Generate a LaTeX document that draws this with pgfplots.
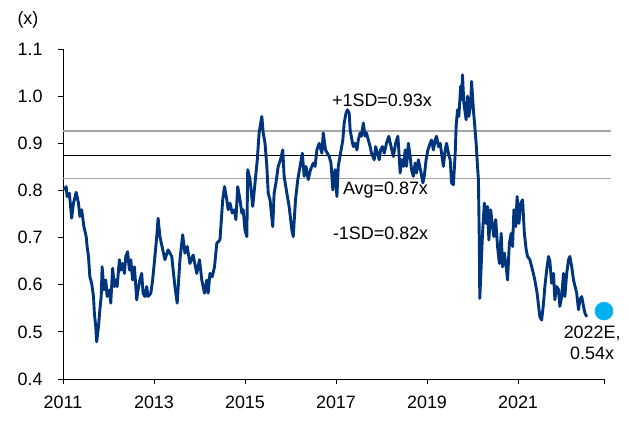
\documentclass[border=0pt]{standalone}
\usepackage{pgfplots}
\usepackage{pgfplotstable}
\pgfplotsset{compat=1.18}
\usepackage{fontspec}
\setmainfont{Liberation Sans}
\definecolor{navy}{RGB}{0,52,125}
\definecolor{dotblue}{RGB}{0,176,240}
\definecolor{sdgray}{RGB}{166,166,166}
\pgfplotstableread{
year value
2011.02 0.801
2011.07 0.808
2011.09 0.787
2011.14 0.794
2011.19 0.741
2011.23 0.773
2011.29 0.796
2011.34 0.773
2011.37 0.745
2011.41 0.759
2011.46 0.723
2011.51 0.702
2011.53 0.681
2011.56 0.660
2011.59 0.617
2011.63 0.603
2011.67 0.575
2011.69 0.539
2011.72 0.511
2011.74 0.479
2011.78 0.511
2011.81 0.547
2011.84 0.575
2011.86 0.638
2011.90 0.589
2011.94 0.610
2011.97 0.575
2012.02 0.589
2012.05 0.561
2012.09 0.635
2012.13 0.596
2012.16 0.610
2012.19 0.596
2012.24 0.653
2012.27 0.631
2012.31 0.645
2012.35 0.624
2012.38 0.660
2012.42 0.670
2012.46 0.631
2012.49 0.653
2012.53 0.610
2012.57 0.638
2012.62 0.568
2012.65 0.589
2012.69 0.610
2012.73 0.624
2012.76 0.582
2012.80 0.575
2012.84 0.596
2012.87 0.575
2012.93 0.582
2012.97 0.610
2013.02 0.660
2013.06 0.702
2013.09 0.741
2013.13 0.702
2013.24 0.653
2013.31 0.674
2013.39 0.660
2013.46 0.596
2013.51 0.561
2013.57 0.653
2013.63 0.706
2013.68 0.667
2013.73 0.681
2013.79 0.645
2013.86 0.663
2013.94 0.624
2014.00 0.653
2014.05 0.610
2014.11 0.582
2014.16 0.610
2014.19 0.582
2014.23 0.624
2014.28 0.617
2014.33 0.638
2014.38 0.688
2014.45 0.695
2014.51 0.780
2014.55 0.808
2014.60 0.780
2014.63 0.759
2014.67 0.773
2014.72 0.752
2014.77 0.759
2014.80 0.738
2014.84 0.808
2014.89 0.780
2014.93 0.752
2014.96 0.759
2015.00 0.716
2015.04 0.702
2015.06 0.844
2015.11 0.823
2015.17 0.766
2015.22 0.816
2015.27 0.865
2015.31 0.922
2015.37 0.957
2015.40 0.922
2015.44 0.900
2015.48 0.851
2015.51 0.794
2015.55 0.780
2015.61 0.723
2015.64 0.794
2015.68 0.816
2015.73 0.851
2015.78 0.865
2015.83 0.886
2015.86 0.830
2015.92 0.794
2015.97 0.766
2016.03 0.716
2016.06 0.702
2016.11 0.780
2016.16 0.823
2016.21 0.851
2016.26 0.879
2016.30 0.830
2016.34 0.851
2016.39 0.823
2016.44 0.844
2016.50 0.858
2016.54 0.851
2016.58 0.886
2016.63 0.900
2016.69 0.879
2016.72 0.922
2016.77 0.886
2016.81 0.879
2016.85 0.872
2016.89 0.858
2016.93 0.801
2016.98 0.844
2017.02 0.787
2017.05 0.851
2017.10 0.879
2017.15 0.907
2017.18 0.943
2017.22 0.964
2017.25 0.971
2017.29 0.964
2017.31 0.929
2017.35 0.907
2017.38 0.893
2017.42 0.900
2017.46 0.886
2017.49 0.907
2017.53 0.922
2017.56 0.915
2017.60 0.943
2017.64 0.915
2017.67 0.922
2017.71 0.907
2017.75 0.893
2017.78 0.879
2017.84 0.865
2017.87 0.893
2017.91 0.879
2017.95 0.865
2017.98 0.886
2018.02 0.893
2018.06 0.879
2018.11 0.900
2018.16 0.915
2018.21 0.893
2018.26 0.872
2018.31 0.900
2018.36 0.915
2018.38 0.886
2018.41 0.837
2018.44 0.865
2018.48 0.851
2018.52 0.886
2018.55 0.851
2018.59 0.900
2018.63 0.872
2018.66 0.844
2018.70 0.830
2018.74 0.858
2018.77 0.837
2018.81 0.865
2018.87 0.837
2018.91 0.816
2018.94 0.830
2018.98 0.865
2019.02 0.886
2019.07 0.900
2019.10 0.907
2019.14 0.886
2019.18 0.907
2019.21 0.915
2019.25 0.893
2019.29 0.900
2019.32 0.879
2019.36 0.851
2019.40 0.886
2019.43 0.900
2019.47 0.879
2019.51 0.865
2019.54 0.816
2019.58 0.812
2019.62 0.879
2019.64 0.936
2019.67 0.971
2019.70 0.957
2019.74 1.021
2019.76 0.992
2019.78 1.045
2019.81 0.985
2019.86 0.950
2019.89 1.000
2019.92 0.957
2019.96 0.985
2019.98 1.031
2020.02 0.971
2020.05 0.936
2020.08 0.900
2020.11 0.851
2020.13 0.823
2020.15 0.688
2020.16 0.571
2020.19 0.638
2020.22 0.709
2020.26 0.773
2020.30 0.730
2020.33 0.766
2020.36 0.695
2020.40 0.759
2020.44 0.723
2020.47 0.702
2020.51 0.738
2020.55 0.681
2020.59 0.645
2020.63 0.709
2020.66 0.638
2020.70 0.667
2020.74 0.638
2020.77 0.610
2020.81 0.688
2020.85 0.709
2020.88 0.681
2020.91 0.759
2020.95 0.723
2020.98 0.787
2021.02 0.730
2021.06 0.773
2021.10 0.780
2021.14 0.709
2021.18 0.674
2021.21 0.660
2021.26 0.653
2021.32 0.631
2021.37 0.610
2021.42 0.582
2021.48 0.532
2021.52 0.525
2021.56 0.560
2021.59 0.596
2021.63 0.631
2021.67 0.660
2021.70 0.650
2021.74 0.603
2021.78 0.624
2021.81 0.568
2021.85 0.596
2021.89 0.590
2021.92 0.554
2021.96 0.575
2022.00 0.624
2022.03 0.575
2022.07 0.624
2022.11 0.653
2022.14 0.660
2022.18 0.638
2022.22 0.610
2022.29 0.582
2022.33 0.547
2022.36 0.568
2022.40 0.575
2022.44 0.554
2022.47 0.540
2022.51 0.532
}\pbdata
\begin{document}
\begin{tikzpicture}
\begin{axis}[
  scale only axis, width=541bp, height=330bp,
  xmin=2011, xmax=2022.89, ymin=0.4, ymax=1.1,
  axis x line*=bottom, axis y line*=left,
  axis line style={-, black, line width=0.8bp},
  xtick={2011,2013,2015,2017,2019,2021},
  extra x ticks={2022.89}, extra x tick labels={},
  ytick={0.4,0.5,0.6,0.7,0.8,0.9,1.0,1.1},
  tick align=outside, major tick length=5bp,
  tick style={black, line width=0.8bp},
  font=\fontsize{18}{21}\selectfont,
  /pgf/number format/assume math mode=true,
  xticklabel style={/pgf/number format/1000 sep={}, yshift=-8bp},
  yticklabel style={/pgf/number format/fixed, /pgf/number format/fixed zerofill, /pgf/number format/precision=1, xshift=-12bp},
  clip=false,
]
\addplot[sdgray, line width=1.5bp] coordinates {(2011,0.926) (2023.05,0.926)};
\addplot[black, line width=1bp] coordinates {(2011,0.875) (2023.05,0.875)};
\addplot[sdgray, line width=1.5bp] coordinates {(2011,0.825) (2023.05,0.825)};
\addplot[navy, line width=2.9bp, line join=round] table[x=year, y=value] {\pbdata};
\addplot[only marks, mark=*, mark size=9bp, dotblue, mark options={draw=dotblue, fill=dotblue}] coordinates {(2022.89,0.544)};
\node[anchor=west, inner sep=0pt] at (axis cs:2016.91,0.992) {+1SD=0.93x};
\node[anchor=west, inner sep=0pt] at (axis cs:2017.15,0.801) {Avg=0.87x};
\node[anchor=west, inner sep=0pt] at (axis cs:2016.93,0.710) {-1SD=0.82x};
\node[align=center, inner sep=0pt] at (axis cs:2022.63,0.476) {2022E,\\0.54x};
\node[inner sep=0pt] at (axis cs:2010.23,1.162) {(x)};
\end{axis}
\path (-63bp,-47bp) rectangle (566bp,379bp);
\end{tikzpicture}
\end{document}
